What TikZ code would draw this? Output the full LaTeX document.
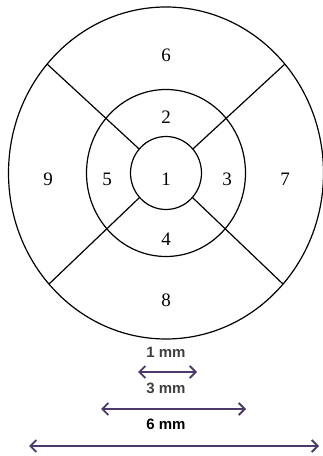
\documentclass[tikz,border=0pt]{standalone}
\usepackage{fontspec}
\setmainfont{Liberation Serif}
\newfontfamily\arialfont{Liberation Sans}
\usetikzlibrary{arrows.meta}
\definecolor{scalepurple}{HTML}{4A3B68}
\definecolor{scalegrey}{HTML}{3F3F3F}

\begin{document}
\begin{tikzpicture}[x=1pt,y=1pt,
  ring/.style={line width=1.2pt},
  seg/.style={font=\fontsize{19}{19}\selectfont},
  scalelbl/.style={font=\arialfont\bfseries\fontsize{15}{15}\selectfont},
  scalearrow/.style={{Straight Barb[length=6pt,width=12pt]}-{Straight Barb[length=6pt,width=12pt]},
    line width=1.8pt, scalepurple}]
  \useasboundingbox (0,0) rectangle (322,456);
  \coordinate (C) at (166,283);
  % rings
  \draw[ring] (C) ellipse [x radius=35.5, y radius=36.5];
  \draw[ring] (C) ellipse [x radius=79.5, y radius=83.5];
  \draw[ring] (C) ellipse [x radius=157.5, y radius=166];
  % spokes
  \coordinate (I1) at ([shift={(41:35.5 and 36.5)}]C);
  \coordinate (I2) at ([shift={(139:35.5 and 36.5)}]C);
  \coordinate (I3) at ([shift={(222:35.5 and 36.5)}]C);
  \coordinate (I4) at ([shift={(318:35.5 and 36.5)}]C);
  \coordinate (O1) at ([shift={(41:157.5 and 166)}]C);
  \coordinate (O2) at ([shift={(139:157.5 and 166)}]C);
  \coordinate (O3) at ([shift={(222:157.5 and 166)}]C);
  \coordinate (O4) at ([shift={(318:157.5 and 166)}]C);
  \draw[ring] (I1) -- (O1);
  \draw[ring] (I2) -- (O2);
  \draw[ring] (I3) -- (O3);
  \draw[ring] (I4) -- (O4);
  % segment numbers
  \node[seg] (S1) at (166,277) {1};
  \node[seg] (S2) at (166,339) {2};
  \node[seg] (S3) at (227,277) {3};
  \node[seg] (S4) at (166,217) {4};
  \node[seg] (S5) at (107,277) {5};
  \node[seg] (S6) at (166,401) {6};
  \node[seg] (S7) at (285,277) {7};
  \node[seg] (S8) at (166,156) {8};
  \node[seg] (S9) at (48,277) {9};
  % scale bars
  \node[scalelbl, scalegrey] (L1) at (166,104) {1 mm};
  \node[scalelbl, scalegrey] (L3) at (166,68) {3 mm};
  \node[scalelbl] (L6) at (166,32) {6 mm};
  \coordinate (A1l) at (138,84);
  \coordinate (A1r) at (197,84);
  \coordinate (A3l) at (101,47);
  \coordinate (A3r) at (246,47);
  \coordinate (A6l) at (29,10);
  \coordinate (A6r) at (319,10);
  \draw[scalearrow] (A1l) -- (A1r);
  \draw[scalearrow] (A3l) -- (A3r);
  \draw[scalearrow] (A6l) -- (A6r);
\end{tikzpicture}
\end{document}
